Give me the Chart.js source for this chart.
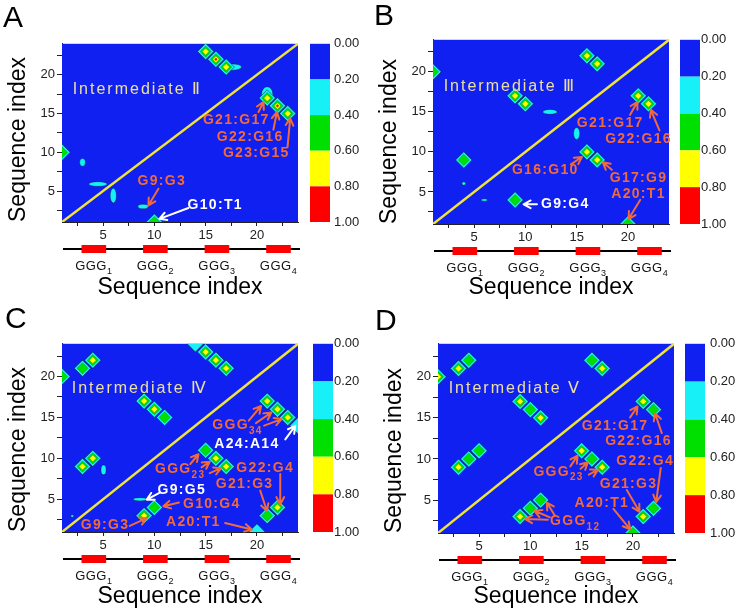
<!DOCTYPE html>
<html>
<head>
<meta charset="utf-8">
<script src="https://cdn.jsdelivr.net/npm/chart.js@4.4.0/dist/chart.umd.min.js"></script>
<style>
    body { margin: 0; background: #fff; overflow: hidden; }
    #wrap { position: relative; width: 737px; height: 614px; }
    #wrap canvas { position: absolute; }
</style>
</head>
<body>
<div id="wrap">
    <canvas id="panelA" width="367" height="301" style="left:0;top:0"></canvas>
    <canvas id="panelB" width="370" height="301" style="left:367px;top:0"></canvas>
    <canvas id="panelC" width="367" height="310" style="left:0;top:300px"></canvas>
    <canvas id="panelD" width="370" height="310" style="left:367px;top:300px"></canvas>
</div>
<script>
// shared axis values
const axisRange = [1, 24];
const axisTicks = [2.5, 5, 7.5, 10, 12.5, 15, 17.5, 20, 22.5];
const labelledTicks = [5, 10, 15, 20];
const levelTicks = [0, 0.2, 0.4, 0.6, 0.8, 1.0];
const gggRuns = [[3, 5], [9, 11], [15, 17], [21, 23]];
const gggNames = ['GGG_1', 'GGG_2', 'GGG_3', 'GGG_4'];

// contacts: [residue i, residue j, peak probability]
// blobs: weak contact tails [x, y, half width, half height] (residues)
// labels: [text, x, y, colour]   arrows: [fromX, fromY, toX, toY, colour]

// A - Intermediate II
const contactsA = [[15, 23, 0.75], [16, 22, 0.9], [17, 21, 0.7], [21, 17, 0.7], [22, 16, 0.9], [23, 15, 0.75], [1, 10, 0.55], [10, 1, 0.55]];
const blobsA = [[17.6, 21, 0.9, 0.4], [21, 17.5, 0.55, 0.95], [3, 8.7, 0.28, 0.5], [4.5, 5.9, 0.9, 0.3], [6, 4.4, 0.3, 0.95], [8.9, 3, 0.5, 0.3]];
const labelsA = [['G21:G17', 17.98, 14.19, 'o'], ['G22:G16', 19.34, 11.89, 'o'], ['G23:G15', 19.93, 9.92, 'o'], ['G9:G3', 10.73, 6.22, 'o'], ['G10:T1', 15.93, 3.14, 'w']];
const arrowsA = [[20.15, 15.2, 20.64, 16.5, 'o'], [21.6, 12.9, 21.95, 15.2, 'o'], [22.98, 10.67, 23.24, 14.37, 'o'], [10.4, 5.3, 9.42, 3.14, 'o'], [13.32, 2.81, 10.49, 1.41, 'w']];

// B - Intermediate III
const contactsB = [[16, 22, 0.7], [17, 21, 0.7], [1, 20, 0.55], [9, 17, 0.7], [10, 16, 0.7], [21, 17, 0.7], [22, 16, 0.7], [16, 10, 0.7], [17, 9, 0.7], [4, 9, 0.5], [9, 4, 0.45], [20, 1, 0.55]];
const blobsB = [[12.4, 15, 0.7, 0.3], [15, 12.3, 0.3, 0.75], [4, 6.05, 0.18, 0.22], [6, 4, 0.3, 0.15]];
const labelsB = [['G21:G17', 18.27, 13.6, 'o'], ['G22:G16', 21.03, 11.64, 'o'], ['G16:G10', 11.94, 7.71, 'o'], ['G17:G9', 21.03, 6.67, 'o'], ['A20:T1', 21.03, 4.68, 'o'], ['G9:G4', 13.89, 3.46, 'w']];
const arrowsB = [[20.21, 14.63, 20.93, 16.26, 'o'], [23.07, 12.68, 22.23, 15.26, 'o'], [14.44, 8.44, 15.51, 9.37, 'o'], [18.43, 7.77, 17.55, 8.7, 'o'], [21.19, 4.01, 20.06, 1.62, 'o'], [11.13, 3.46, 9.83, 3.46, 'w']];

// C - Intermediate IV
const contactsC = [[14, 24, 0.35], [15, 23, 0.7], [16, 22, 0.7], [17, 21, 0.75], [3, 21, 0.5], [4, 22, 0.7], [1, 20, 0.5], [9, 17, 0.7], [10, 16, 0.7], [11, 15, 0.45], [3, 9, 0.7], [4, 10, 0.7],
    [21, 17, 0.7], [22, 16, 0.7], [23, 15, 0.7], [24, 14, 0.35], [15, 11, 0.45], [16, 10, 0.7], [17, 9, 0.7], [9, 3, 0.7], [10, 4, 0.55], [21, 3, 0.45], [22, 4, 0.7], [20, 1, 0.35]];
const blobsC = [[5.05, 8.6, 0.25, 0.6], [8.6, 5, 0.65, 0.2], [2, 2.95, 0.15, 0.15]];
const labelsC = [['GGG_34', 18.1, 14.0, 'o'], ['A24:A14', 19.02, 11.76, 'w'], ['GGG_23', 12.51, 8.64, 'o'], ['G22:G4', 20.8, 8.82, 'o'], ['G21:G3', 18.8, 6.8, 'o'], ['G9:G5', 12.68, 6.06, 'w'], ['G10:G4', 15.6, 4.4, 'o'], ['G9:G3', 5.2, 1.84, 'o'], ['A20:T1', 13.8, 2.2, 'o']];
const arrowsC = [[19.2, 14.6, 20.4, 16.4, 'o'], [19.9, 14.3, 21.4, 15.6, 'o'], [20.7, 14.0, 22.4, 14.8, 'o'], [22.76, 12.31, 23.73, 13.97, 'w'],
    [13.5, 9.3, 14.3, 10.5, 'o'], [14.6, 8.9, 15.4, 9.6, 'o'], [15.4, 8.2, 16.5, 8.8, 'o'],
    [22.27, 8.09, 22.27, 4.4, 'o'], [20.32, 6.06, 20.97, 3.56, 'o'], [10.49, 5.77, 9.26, 4.96, 'w'], [12.4, 4.6, 10.88, 4.14, 'o'], [7.6, 1.75, 9.26, 2.69, 'o'], [16.9, 2.1, 19.5, 1.3, 'o']];

// D - Intermediate V
const contactsD = [[1, 20, 0.7], [3, 21, 0.7], [4, 22, 0.45], [16, 22, 0.45], [17, 21, 0.7], [9, 17, 0.7], [10, 16, 0.55], [11, 15, 0.7], [3, 9, 0.7], [4, 10, 0.45], [5, 11, 0.55],
    [21, 17, 0.7], [22, 16, 0.42], [15, 11, 0.7], [16, 10, 0.55], [17, 9, 0.7], [9, 3, 0.7], [10, 4, 0.45], [11, 5, 0.5], [21, 3, 0.7], [22, 4, 0.42], [20, 1, 0.55]];
const blobsD = [];
const labelsD = [['G21:G17', 18.26, 13.96, 'o'], ['G22:G16', 20.54, 12.11, 'o'], ['G22:G4', 21.19, 9.72, 'o'], ['G21:G3', 19.57, 6.97, 'o'], ['A20:T1', 16.97, 4.6, 'o'], ['GGG_23', 12.75, 8.44, 'o'], ['GGG_12', 14.37, 2.39, 'o']];
const arrowsD = [[19.72, 15.06, 20.44, 16.38, 'o'], [22.81, 13.15, 22.16, 15.53, 'o'], [22.71, 8.91, 22.26, 4.76, 'o'], [19.4, 6.23, 20.64, 3.58, 'o'], [18.1, 3.94, 19.73, 1.45, 'o'],
    [13.9, 9.1, 14.6, 10.4, 'o'], [14.9, 8.8, 15.6, 9.6, 'o'], [15.7, 8.1, 16.6, 8.7, 'o'],
    [11.7, 2.6, 9.5, 2.7, 'o'], [11.9, 2.9, 10.4, 3.7, 'o'], [12.4, 3.1, 11.6, 4.7, 'o']];

// styles
const FONT = '"Liberation Sans", Arial, sans-serif';
const levelColors = ['#1020f0', '#18f0f8', '#00e000', '#ffff00', '#ff0000'];
const ringRadius = [0, 8.2, 5.6, 3.4, 1.6];
const ringBorder = [0, 0.8, 0.35, 0.35, 0];
const inkColors = { o: '#f26a3a', w: '#ffffff' };
const contourColor = 'rgba(0, 0, 0, 0.55)';

function drawSubText(ctx, str, cx, cy, size, weight, color, spacing) {
    const [main, sub] = str.split('_');
    const mainFont = `${weight} ${size}px ${FONT}`;
    const subFont = `${weight} ${Math.round(size * 0.72)}px ${FONT}`;
    ctx.save();
    ctx.letterSpacing = spacing + 'px';
    ctx.font = mainFont;
    const wMain = ctx.measureText(main).width;
    let wSub = 0;
    if (sub) {
        ctx.font = subFont;
        wSub = ctx.measureText(sub).width;
    }
    const x = cx - (wMain + wSub) / 2;
    ctx.fillStyle = color;
    ctx.textAlign = 'left';
    ctx.textBaseline = 'middle';
    ctx.font = mainFont;
    ctx.fillText(main, x, cy);
    if (sub) {
        ctx.font = subFont;
        ctx.fillText(sub, x + wMain, cy + size * 0.4);
    }
    ctx.restore();
}

function drawArrow(ctx, x1, y1, x2, y2, color) {
    const ang = Math.atan2(y2 - y1, x2 - x1);
    const head = 8;
    ctx.save();
    ctx.strokeStyle = color;
    ctx.lineWidth = 2;
    ctx.lineCap = 'round';
    ctx.lineJoin = 'round';
    ctx.beginPath();
    ctx.moveTo(x1, y1);
    ctx.lineTo(x2, y2);
    ctx.moveTo(x2 - head * Math.cos(ang - 0.5), y2 - head * Math.sin(ang - 0.5));
    ctx.lineTo(x2, y2);
    ctx.lineTo(x2 - head * Math.cos(ang + 0.5), y2 - head * Math.sin(ang + 0.5));
    ctx.stroke();
    ctx.restore();
}

function makePanel(id, p) {
    const canvas = document.getElementById(id);
    const cw = canvas.width, ch = canvas.height;
    const box = p.box;

    // one dataset per contour level, smallest ring on top
    const ringSets = [1, 2, 3, 4].map(k => ({
        data: p.contacts.filter(c => c[2] >= levelTicks[k]).map(c => ({ x: c[0], y: c[1] })),
        pointStyle: 'rectRot',
        pointRadius: ringRadius[k],
        pointHoverRadius: ringRadius[k],
        backgroundColor: levelColors[k],
        borderColor: contourColor,
        borderWidth: ringBorder[k],
        clip: 0,
        order: 5 - k
    }));

    const diagonalSet = {
        data: axisRange.map(v => ({ x: v, y: v })),
        showLine: true,
        borderColor: '#f0e43a',
        borderWidth: 2.5,
        pointRadius: 0,
        clip: 0,
        order: 0
    };

    const panelPlugin = {
        id: 'panel' + p.letter,
        beforeDatasetsDraw(chart) {
            const { ctx, chartArea: a, scales: { x, y } } = chart;
            ctx.save();
            ctx.fillStyle = levelColors[0];
            ctx.fillRect(a.left, a.top, a.right - a.left, a.bottom - a.top);
            ctx.beginPath();
            ctx.rect(a.left, a.top, a.right - a.left, a.bottom - a.top);
            ctx.clip();
            p.blobs.forEach(b => {
                const cx = x.getPixelForValue(b[0]);
                const cy = y.getPixelForValue(b[1]);
                const rx = Math.abs(x.getPixelForValue(b[0] + b[2]) - cx);
                const ry = Math.abs(y.getPixelForValue(b[1] + b[3]) - cy);
                ctx.beginPath();
                ctx.ellipse(cx, cy, rx, ry, 0, 0, Math.PI * 2);
                ctx.fillStyle = levelColors[1];
                ctx.fill();
                ctx.strokeStyle = contourColor;
                ctx.lineWidth = 0.6;
                ctx.stroke();
            });
            ctx.restore();
        },
        afterDatasetsDraw(chart) {
            const { ctx, scales: { x, y } } = chart;
            // panel title inside the map
            ctx.save();
            ctx.font = `16px ${FONT}`;
            ctx.letterSpacing = '2px';
            ctx.fillStyle = '#ece0a0';
            ctx.textAlign = 'left';
            ctx.textBaseline = 'middle';
            ctx.fillText(p.title, x.getPixelForValue(p.titleAt[0]), y.getPixelForValue(p.titleAt[1]));
            ctx.restore();

            p.arrows.forEach(ar => {
                drawArrow(ctx, x.getPixelForValue(ar[0]), y.getPixelForValue(ar[1]),
                    x.getPixelForValue(ar[2]), y.getPixelForValue(ar[3]), inkColors[ar[4]]);
            });
            p.labels.forEach(l => {
                drawSubText(ctx, l[0], x.getPixelForValue(l[1]), y.getPixelForValue(l[2]), 14, 'bold', inkColors[l[3]], 1.3);
            });
        },
        afterDraw(chart) {
            const { ctx, chartArea: a, scales: { x, cb } } = chart;
            ctx.save();
            // colour bar
            const barLeft = a.right + p.cbGap;
            for (let k = 0; k < levelColors.length; k++) {
                const y0 = cb.getPixelForValue(levelTicks[k]);
                const y1 = cb.getPixelForValue(levelTicks[k + 1]);
                ctx.fillStyle = levelColors[k];
                ctx.fillRect(barLeft, y0, 20, y1 - y0);
            }
            // sequence strip with G-tracts
            const stripY = a.bottom + 27;
            ctx.strokeStyle = '#000';
            ctx.lineWidth = 2;
            ctx.beginPath();
            ctx.moveTo(a.left + 1, stripY);
            ctx.lineTo(a.right + 2, stripY);
            ctx.stroke();
            gggRuns.forEach((run, i) => {
                const x0 = x.getPixelForValue(run[0] - 0.1);
                const x1 = x.getPixelForValue(run[1] + 0.3);
                ctx.fillStyle = '#ff0000';
                ctx.fillRect(x0, stripY - 4, x1 - x0, 8);
                drawSubText(ctx, gggNames[i], (x0 + x1) / 2, a.bottom + 44, 13, 'normal', '#111', 0.5);
            });
            // panel letter
            ctx.fillStyle = '#000';
            ctx.font = `30px ${FONT}`;
            ctx.textAlign = 'left';
            ctx.textBaseline = 'alphabetic';
            ctx.fillText(p.letter, p.letterAt[0], p.letterAt[1]);
            ctx.restore();
        }
    };

    const tickFont = { family: FONT, size: 13 };
    const titleFont = { family: FONT, size: 23 };

    return new Chart(canvas, {
        type: 'scatter',
        data: { datasets: [diagonalSet, ...ringSets] },
        options: {
            responsive: false,
            animation: false,
            events: [],
            layout: { padding: { top: box.T, left: 0, right: 0, bottom: 0 } },
            plugins: {
                legend: { display: false },
                tooltip: { enabled: false }
            },
            scales: {
                x: {
                    type: 'linear',
                    position: 'bottom',
                    min: axisRange[0],
                    max: axisRange[1],
                    afterBuildTicks: s => { s.ticks = axisTicks.map(v => ({ value: v })); },
                    afterFit: s => { s.height = ch - box.T - box.H; },
                    ticks: {
                        autoSkip: false,
                        maxRotation: 0,
                        padding: 2,
                        color: '#222',
                        font: tickFont,
                        callback: v => labelledTicks.includes(v) ? String(v) : ''
                    },
                    grid: { drawOnChartArea: false, tickLength: 4, color: '#222' },
                    border: { color: '#222', width: 1 },
                    title: { display: true, text: 'Sequence index', color: '#000', font: titleFont, padding: { top: 0, bottom: 0 } }
                },
                y: {
                    type: 'linear',
                    position: 'left',
                    min: axisRange[0],
                    max: axisRange[1],
                    afterBuildTicks: s => { s.ticks = axisTicks.map(v => ({ value: v })); },
                    afterFit: s => { s.width = box.L; },
                    ticks: {
                        autoSkip: false,
                        padding: 2,
                        color: '#222',
                        font: tickFont,
                        callback: v => labelledTicks.includes(v) ? String(v) : ''
                    },
                    grid: { drawOnChartArea: false, tickLength: 5, color: '#222' },
                    border: { color: '#222', width: 1 },
                    title: { display: true, text: 'Sequence index', color: '#000', font: titleFont, align: 'start', padding: { top: box.L - 56.8, bottom: 0 } }
                },
                cb: {
                    type: 'linear',
                    position: 'right',
                    reverse: true,
                    min: 0,
                    max: 1,
                    afterBuildTicks: s => { s.ticks = levelTicks.map(v => ({ value: v })); },
                    afterFit: s => { s.width = cw - box.L - box.W; },
                    ticks: {
                        autoSkip: false,
                        padding: p.cbText,
                        color: '#222',
                        font: tickFont,
                        callback: v => v.toFixed(2)
                    },
                    grid: { display: false, drawTicks: false },
                    border: { display: false }
                }
            }
        },
        plugins: [panelPlugin]
    });
}

makePanel('panelA', {
    letter: 'A', letterAt: [3, 27], title: 'Intermediate Ⅱ', titleAt: [2.04, 18.1],
    contacts: contactsA, blobs: blobsA, labels: labelsA, arrows: arrowsA,
    box: { L: 62, T: 15, W: 236, H: 207 }, cbGap: 12, cbText: 36
});
makePanel('panelB', {
    letter: 'B', letterAt: [7, 25], title: 'Intermediate Ⅲ', titleAt: [2.04, 18.2],
    contacts: contactsB, blobs: blobsB, labels: labelsB, arrows: arrowsB,
    box: { L: 66, T: 16, W: 236, H: 208 }, cbGap: 11, cbText: 32
});
makePanel('panelC', {
    letter: 'C', letterAt: [5, 28], title: 'Intermediate Ⅳ', titleAt: [1.95, 18.5],
    contacts: contactsC, blobs: blobsC, labels: labelsC, arrows: arrowsC,
    box: { L: 62, T: 24, W: 236, H: 208 }, cbGap: 15, cbText: 36
});
makePanel('panelD', {
    letter: 'D', letterAt: [8, 30], title: 'Intermediate Ⅴ', titleAt: [2.04, 18.6],
    contacts: contactsD, blobs: blobsD, labels: labelsD, arrows: arrowsD,
    box: { L: 71, T: 25, W: 236, H: 208 }, cbGap: 11, cbText: 36
});
</script>
</body>
</html>
